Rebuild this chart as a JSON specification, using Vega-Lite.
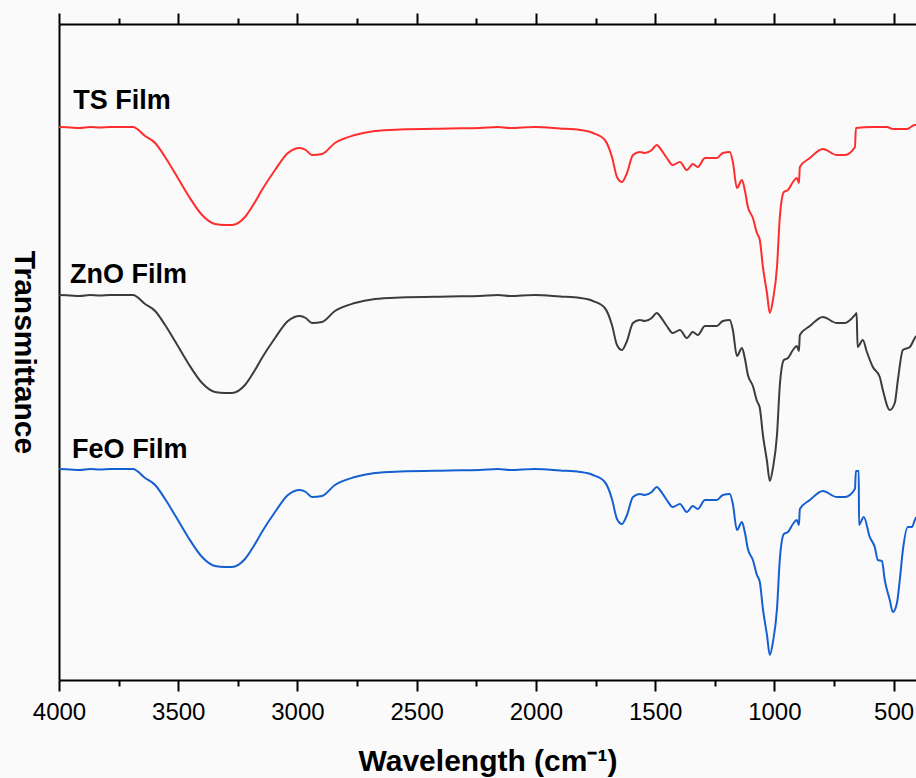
{
  "$schema": "https://vega.github.io/schema/vega-lite/v6.json",
  "width": 857,
  "height": 656,
  "autosize": "none",
  "padding": {"left": 59, "top": 24, "right": 0, "bottom": 98},
  "background": "#fafafa",
  "config": {"view": {"stroke": null}, "font": "Liberation Sans"},
  "resolve": {"axis": {"x": "independent", "y": "independent"}},
  "layer": [
    {
      "data": {"values": [
        {"s":"TS Film","w":4000,"t":553},{"s":"TS Film","w":3954,"t":552.5},{"s":"TS Film","w":3912,"t":552},{"s":"TS Film","w":3870,"t":553},{"s":"TS Film","w":3828,"t":552.5},{"s":"TS Film","w":3786,"t":553},{"s":"TS Film","w":3744,"t":553},{"s":"TS Film","w":3690,"t":553},{"s":"TS Film","w":3639,"t":544},{"s":"TS Film","w":3597,"t":537},{"s":"TS Film","w":3555,"t":523},{"s":"TS Film","w":3514,"t":507},{"s":"TS Film","w":3459,"t":485},{"s":"TS Film","w":3400,"t":465},{"s":"TS Film","w":3346,"t":456},{"s":"TS Film","w":3304,"t":455},{"s":"TS Film","w":3275,"t":455},{"s":"TS Film","w":3220,"t":463},{"s":"TS Film","w":3178,"t":478},{"s":"TS Film","w":3149,"t":490},{"s":"TS Film","w":3094,"t":510},{"s":"TS Film","w":3040,"t":527},{"s":"TS Film","w":2990,"t":532},{"s":"TS Film","w":2965,"t":530},{"s":"TS Film","w":2939,"t":525},{"s":"TS Film","w":2897,"t":526},{"s":"TS Film","w":2843,"t":537},{"s":"TS Film","w":2759,"t":545},{"s":"TS Film","w":2675,"t":549},{"s":"TS Film","w":2570,"t":550.5},{"s":"TS Film","w":2361,"t":551.5},{"s":"TS Film","w":2235,"t":552},{"s":"TS Film","w":2159,"t":553},{"s":"TS Film","w":2109,"t":552},{"s":"TS Film","w":2004,"t":553},{"s":"TS Film","w":1899,"t":551.5},{"s":"TS Film","w":1815,"t":550},{"s":"TS Film","w":1761,"t":547},{"s":"TS Film","w":1711,"t":540},{"s":"TS Film","w":1681,"t":523},{"s":"TS Film","w":1660,"t":503},{"s":"TS Film","w":1639,"t":498},{"s":"TS Film","w":1618,"t":507},{"s":"TS Film","w":1593,"t":525},{"s":"TS Film","w":1564,"t":528},{"s":"TS Film","w":1543,"t":527},{"s":"TS Film","w":1514,"t":530},{"s":"TS Film","w":1493,"t":535},{"s":"TS Film","w":1480,"t":532},{"s":"TS Film","w":1451,"t":522},{"s":"TS Film","w":1426,"t":515},{"s":"TS Film","w":1396,"t":518},{"s":"TS Film","w":1367,"t":510},{"s":"TS Film","w":1342,"t":516},{"s":"TS Film","w":1321,"t":513},{"s":"TS Film","w":1291,"t":522},{"s":"TS Film","w":1241,"t":522},{"s":"TS Film","w":1216,"t":527},{"s":"TS Film","w":1187,"t":528},{"s":"TS Film","w":1174,"t":518},{"s":"TS Film","w":1157,"t":492},{"s":"TS Film","w":1136,"t":500},{"s":"TS Film","w":1124,"t":490},{"s":"TS Film","w":1111,"t":473},{"s":"TS Film","w":1090,"t":462},{"s":"TS Film","w":1073,"t":447},{"s":"TS Film","w":1061,"t":440},{"s":"TS Film","w":1048,"t":413},{"s":"TS Film","w":1031,"t":387},{"s":"TS Film","w":1019,"t":367},{"s":"TS Film","w":1006,"t":380},{"s":"TS Film","w":989,"t":413},{"s":"TS Film","w":977,"t":463},{"s":"TS Film","w":960,"t":488},{"s":"TS Film","w":943,"t":490},{"s":"TS Film","w":922,"t":498},{"s":"TS Film","w":906,"t":502},{"s":"TS Film","w":897,"t":497},{"s":"TS Film","w":893,"t":513},{"s":"TS Film","w":851,"t":522},{"s":"TS Film","w":797,"t":531},{"s":"TS Film","w":738,"t":525},{"s":"TS Film","w":704,"t":525},{"s":"TS Film","w":662,"t":533},{"s":"TS Film","w":658,"t":552},{"s":"TS Film","w":587,"t":553},{"s":"TS Film","w":528,"t":553},{"s":"TS Film","w":503,"t":551},{"s":"TS Film","w":444,"t":551},{"s":"TS Film","w":411,"t":555},{"s":"TS Film","w":405,"t":555},

        {"s":"ZnO Film","w":4000,"t":385},{"s":"ZnO Film","w":3954,"t":384.5},{"s":"ZnO Film","w":3912,"t":384},{"s":"ZnO Film","w":3870,"t":385},{"s":"ZnO Film","w":3828,"t":384.5},{"s":"ZnO Film","w":3786,"t":385},{"s":"ZnO Film","w":3744,"t":385},{"s":"ZnO Film","w":3690,"t":385},{"s":"ZnO Film","w":3639,"t":376},{"s":"ZnO Film","w":3597,"t":369},{"s":"ZnO Film","w":3555,"t":355},{"s":"ZnO Film","w":3514,"t":339},{"s":"ZnO Film","w":3459,"t":317},{"s":"ZnO Film","w":3400,"t":297},{"s":"ZnO Film","w":3346,"t":288},{"s":"ZnO Film","w":3304,"t":287},{"s":"ZnO Film","w":3275,"t":287},{"s":"ZnO Film","w":3220,"t":295},{"s":"ZnO Film","w":3178,"t":310},{"s":"ZnO Film","w":3149,"t":322},{"s":"ZnO Film","w":3094,"t":342},{"s":"ZnO Film","w":3040,"t":359},{"s":"ZnO Film","w":2990,"t":364},{"s":"ZnO Film","w":2965,"t":362},{"s":"ZnO Film","w":2939,"t":357},{"s":"ZnO Film","w":2897,"t":358},{"s":"ZnO Film","w":2843,"t":369},{"s":"ZnO Film","w":2759,"t":377},{"s":"ZnO Film","w":2675,"t":381},{"s":"ZnO Film","w":2570,"t":382.5},{"s":"ZnO Film","w":2361,"t":383.5},{"s":"ZnO Film","w":2235,"t":384},{"s":"ZnO Film","w":2159,"t":385},{"s":"ZnO Film","w":2109,"t":384},{"s":"ZnO Film","w":2004,"t":385},{"s":"ZnO Film","w":1899,"t":383.5},{"s":"ZnO Film","w":1815,"t":382},{"s":"ZnO Film","w":1761,"t":379},{"s":"ZnO Film","w":1711,"t":372},{"s":"ZnO Film","w":1681,"t":355},{"s":"ZnO Film","w":1660,"t":335},{"s":"ZnO Film","w":1639,"t":330},{"s":"ZnO Film","w":1618,"t":339},{"s":"ZnO Film","w":1593,"t":357},{"s":"ZnO Film","w":1564,"t":360},{"s":"ZnO Film","w":1543,"t":359},{"s":"ZnO Film","w":1514,"t":362},{"s":"ZnO Film","w":1493,"t":367},{"s":"ZnO Film","w":1480,"t":364},{"s":"ZnO Film","w":1451,"t":354},{"s":"ZnO Film","w":1426,"t":347},{"s":"ZnO Film","w":1396,"t":350},{"s":"ZnO Film","w":1367,"t":342},{"s":"ZnO Film","w":1342,"t":348},{"s":"ZnO Film","w":1321,"t":345},{"s":"ZnO Film","w":1291,"t":354},{"s":"ZnO Film","w":1241,"t":354},{"s":"ZnO Film","w":1216,"t":359},{"s":"ZnO Film","w":1187,"t":360},{"s":"ZnO Film","w":1174,"t":350},{"s":"ZnO Film","w":1157,"t":324},{"s":"ZnO Film","w":1136,"t":332},{"s":"ZnO Film","w":1124,"t":322},{"s":"ZnO Film","w":1111,"t":305},{"s":"ZnO Film","w":1090,"t":294},{"s":"ZnO Film","w":1073,"t":279},{"s":"ZnO Film","w":1061,"t":272},{"s":"ZnO Film","w":1048,"t":245},{"s":"ZnO Film","w":1031,"t":219},{"s":"ZnO Film","w":1019,"t":199},{"s":"ZnO Film","w":1006,"t":212},{"s":"ZnO Film","w":989,"t":245},{"s":"ZnO Film","w":977,"t":295},{"s":"ZnO Film","w":960,"t":320},{"s":"ZnO Film","w":943,"t":322},{"s":"ZnO Film","w":922,"t":330},{"s":"ZnO Film","w":906,"t":334},{"s":"ZnO Film","w":897,"t":329},{"s":"ZnO Film","w":893,"t":345},{"s":"ZnO Film","w":851,"t":354},{"s":"ZnO Film","w":797,"t":363},{"s":"ZnO Film","w":738,"t":357},{"s":"ZnO Film","w":704,"t":357},{"s":"ZnO Film","w":662,"t":365},{"s":"ZnO Film","w":655,"t":367},{"s":"ZnO Film","w":651,"t":333},{"s":"ZnO Film","w":629,"t":340},{"s":"ZnO Film","w":612,"t":328},{"s":"ZnO Film","w":587,"t":313},{"s":"ZnO Film","w":558,"t":303},{"s":"ZnO Film","w":545,"t":290},{"s":"ZnO Film","w":516,"t":270},{"s":"ZnO Film","w":495,"t":277},{"s":"ZnO Film","w":482,"t":300},{"s":"ZnO Film","w":461,"t":330},{"s":"ZnO Film","w":432,"t":333},{"s":"ZnO Film","w":411,"t":342},{"s":"ZnO Film","w":405,"t":344},

        {"s":"FeO Film","w":4000,"t":211},{"s":"FeO Film","w":3954,"t":210.5},{"s":"FeO Film","w":3912,"t":210},{"s":"FeO Film","w":3870,"t":211},{"s":"FeO Film","w":3828,"t":210.5},{"s":"FeO Film","w":3786,"t":211},{"s":"FeO Film","w":3744,"t":211},{"s":"FeO Film","w":3690,"t":211},{"s":"FeO Film","w":3639,"t":202},{"s":"FeO Film","w":3597,"t":195},{"s":"FeO Film","w":3555,"t":181},{"s":"FeO Film","w":3514,"t":165},{"s":"FeO Film","w":3459,"t":143},{"s":"FeO Film","w":3400,"t":123},{"s":"FeO Film","w":3346,"t":114},{"s":"FeO Film","w":3304,"t":113},{"s":"FeO Film","w":3275,"t":113},{"s":"FeO Film","w":3220,"t":121},{"s":"FeO Film","w":3178,"t":136},{"s":"FeO Film","w":3149,"t":148},{"s":"FeO Film","w":3094,"t":168},{"s":"FeO Film","w":3040,"t":185},{"s":"FeO Film","w":2990,"t":190},{"s":"FeO Film","w":2965,"t":188},{"s":"FeO Film","w":2939,"t":183},{"s":"FeO Film","w":2897,"t":184},{"s":"FeO Film","w":2843,"t":195},{"s":"FeO Film","w":2759,"t":203},{"s":"FeO Film","w":2675,"t":207},{"s":"FeO Film","w":2570,"t":208.5},{"s":"FeO Film","w":2361,"t":209.5},{"s":"FeO Film","w":2235,"t":210},{"s":"FeO Film","w":2159,"t":211},{"s":"FeO Film","w":2109,"t":210},{"s":"FeO Film","w":2004,"t":211},{"s":"FeO Film","w":1899,"t":209.5},{"s":"FeO Film","w":1815,"t":208},{"s":"FeO Film","w":1761,"t":205},{"s":"FeO Film","w":1711,"t":198},{"s":"FeO Film","w":1681,"t":181},{"s":"FeO Film","w":1660,"t":161},{"s":"FeO Film","w":1639,"t":156},{"s":"FeO Film","w":1618,"t":165},{"s":"FeO Film","w":1593,"t":183},{"s":"FeO Film","w":1564,"t":186},{"s":"FeO Film","w":1543,"t":185},{"s":"FeO Film","w":1514,"t":188},{"s":"FeO Film","w":1493,"t":193},{"s":"FeO Film","w":1480,"t":190},{"s":"FeO Film","w":1451,"t":180},{"s":"FeO Film","w":1426,"t":173},{"s":"FeO Film","w":1396,"t":176},{"s":"FeO Film","w":1367,"t":168},{"s":"FeO Film","w":1342,"t":174},{"s":"FeO Film","w":1321,"t":171},{"s":"FeO Film","w":1291,"t":180},{"s":"FeO Film","w":1241,"t":180},{"s":"FeO Film","w":1216,"t":185},{"s":"FeO Film","w":1187,"t":186},{"s":"FeO Film","w":1174,"t":176},{"s":"FeO Film","w":1157,"t":150},{"s":"FeO Film","w":1136,"t":158},{"s":"FeO Film","w":1124,"t":148},{"s":"FeO Film","w":1111,"t":131},{"s":"FeO Film","w":1090,"t":120},{"s":"FeO Film","w":1073,"t":105},{"s":"FeO Film","w":1061,"t":98},{"s":"FeO Film","w":1048,"t":71},{"s":"FeO Film","w":1031,"t":45},{"s":"FeO Film","w":1019,"t":25},{"s":"FeO Film","w":1006,"t":38},{"s":"FeO Film","w":989,"t":71},{"s":"FeO Film","w":977,"t":121},{"s":"FeO Film","w":960,"t":146},{"s":"FeO Film","w":943,"t":148},{"s":"FeO Film","w":922,"t":156},{"s":"FeO Film","w":906,"t":160},{"s":"FeO Film","w":897,"t":155},{"s":"FeO Film","w":893,"t":171},{"s":"FeO Film","w":851,"t":180},{"s":"FeO Film","w":797,"t":189},{"s":"FeO Film","w":738,"t":183},{"s":"FeO Film","w":704,"t":183},{"s":"FeO Film","w":662,"t":191},{"s":"FeO Film","w":658,"t":209},{"s":"FeO Film","w":646,"t":209},{"s":"FeO Film","w":645,"t":155},{"s":"FeO Film","w":625,"t":163},{"s":"FeO Film","w":600,"t":143},{"s":"FeO Film","w":579,"t":133},{"s":"FeO Film","w":566,"t":120},{"s":"FeO Film","w":549,"t":119},{"s":"FeO Film","w":537,"t":100},{"s":"FeO Film","w":516,"t":80},{"s":"FeO Film","w":503,"t":68},{"s":"FeO Film","w":486,"t":77},{"s":"FeO Film","w":474,"t":100},{"s":"FeO Film","w":461,"t":130},{"s":"FeO Film","w":440,"t":153},{"s":"FeO Film","w":423,"t":153},{"s":"FeO Film","w":411,"t":160},{"s":"FeO Film","w":405,"t":163}
      ]},
      "mark": {"type": "line", "strokeWidth": 2, "clip": true, "interpolate": "monotone"},
      "encoding": {
        "x": {"field": "w", "type": "quantitative",
          "scale": {"domain": [406, 4000], "reverse": true, "nice": false, "zero": false},
          "axis": {"orient": "bottom", "values": [4000,3500,3000,2500,2000,1500,1000,500], "format": "d",
            "tickSize": 11, "tickWidth": 2, "tickColor": "black", "domainWidth": 2, "domainColor": "black",
            "labelFontSize": 24, "labelColor": "black", "labelPadding": 9, "labelFlush": false, "labelOverlap": false,
            "grid": false, "title": "Wavelength (cm⁻¹)", "titleFontSize": 30, "titleFontWeight": "bold", "titleColor": "black",
            "titleY": 90, "titleBaseline": "alphabetic"}},
        "y": {"field": "t", "type": "quantitative",
          "scale": {"domain": [0, 656], "nice": false, "zero": false},
          "axis": {"orient": "left", "ticks": false, "labels": false, "grid": false, "domainWidth": 2, "domainColor": "black",
            "title": "Transmittance", "titleAngle": 90, "titleFontSize": 30, "titleFontWeight": "bold", "titleColor": "black",
            "titleX": -36, "titleY": 328, "titleAlign": "center", "titleBaseline": "middle"}},
        "color": {"field": "s", "type": "nominal",
          "scale": {"domain": ["TS Film", "ZnO Film", "FeO Film"], "range": ["#ff2d2d", "#3c3c3c", "#1560d0"]},
          "legend": null}
      }
    },
    {
      "data": {"values": [{"w": 2000}]},
      "mark": {"type": "point", "opacity": 0},
      "encoding": {
        "x": {"field": "w", "type": "quantitative",
          "scale": {"domain": [406, 4000], "reverse": true, "nice": false, "zero": false},
          "axis": {"orient": "bottom", "values": [3750,3250,2750,2250,1750,1250,750], "tickSize": 6, "tickWidth": 2, "tickColor": "black",
            "labels": false, "domain": false, "grid": false, "title": null}}
      }
    },
    {
      "data": {"values": [{"w": 2000}]},
      "mark": {"type": "point", "opacity": 0},
      "encoding": {
        "x": {"field": "w", "type": "quantitative",
          "scale": {"domain": [406, 4000], "reverse": true, "nice": false, "zero": false},
          "axis": {"orient": "top", "values": [4000,3500,3000,2500,2000,1500,1000,500], "tickSize": 11, "tickWidth": 2, "tickColor": "black",
            "labels": false, "domain": true, "domainWidth": 2, "domainColor": "black", "grid": false, "title": null}}
      }
    },
    {
      "data": {"values": [{"w": 2000}]},
      "mark": {"type": "point", "opacity": 0},
      "encoding": {
        "x": {"field": "w", "type": "quantitative",
          "scale": {"domain": [406, 4000], "reverse": true, "nice": false, "zero": false},
          "axis": {"orient": "top", "values": [3750,3250,2750,2250,1750,1250,750], "tickSize": 6, "tickWidth": 2, "tickColor": "black",
            "labels": false, "domain": false, "grid": false, "title": null}}
      }
    },
    {
      "data": {"values": [
        {"label": "TS Film", "w": 3940, "t": 571},
        {"label": "ZnO Film", "w": 3954, "t": 397},
        {"label": "FeO Film", "w": 3945, "t": 222}
      ]},
      "mark": {"type": "text", "align": "left", "baseline": "alphabetic", "fontSize": 27, "fontWeight": "bold", "color": "black"},
      "encoding": {
        "x": {"field": "w", "type": "quantitative", "scale": {"domain": [406, 4000], "reverse": true, "nice": false, "zero": false}, "axis": null},
        "y": {"field": "t", "type": "quantitative", "scale": {"domain": [0, 656], "nice": false, "zero": false}, "axis": null},
        "text": {"field": "label"}
      }
    }
  ]
}
